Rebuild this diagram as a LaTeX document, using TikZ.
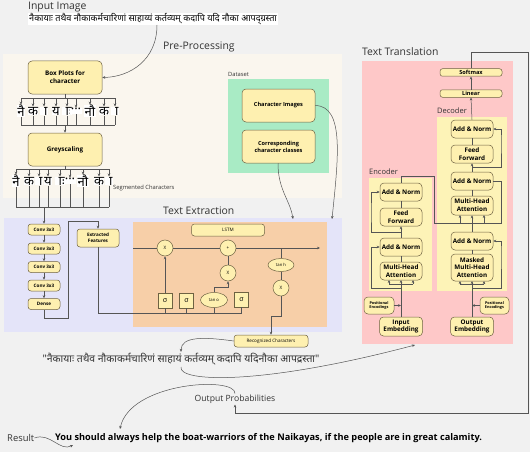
\documentclass[tikz,border=0pt]{standalone}
\usepackage{fontspec}
\setmainfont{Open Sans}
\newfontfamily\deva[Script=Devanagari]{Noto Sans}
\usetikzlibrary{arrows.meta,shapes.geometric}

\definecolor{bgc}{HTML}{F1F1F1}
\definecolor{prec}{HTML}{FAF6EE}
\definecolor{extc}{HTML}{E4E4F9}
\definecolor{lstmc}{HTML}{F7CFA8}
\definecolor{tranc}{HTML}{FEC8C8}
\definecolor{datac}{HTML}{A9EBC5}
\definecolor{codc}{HTML}{FDF3B7}
\definecolor{nodec}{HTML}{FEF0B0}
\definecolor{edgec}{HTML}{6E6242}
\definecolor{linec}{HTML}{555555}
\definecolor{txtc}{HTML}{333333}

\newcommand{\nbs}{\char"00A0}

\tikzset{
  wire/.style={draw=linec, line width=0.5pt},
  arr/.style={wire, -{Stealth[length=3pt,width=2.6pt]}},
  dims/.style 2 args={minimum width=#1pt, minimum height=#2pt},
  blockbox/.style={draw=edgec, fill=nodec, rounded corners=4pt, line width=0.5pt,
    align=center, inner sep=1pt, font=\bfseries\fontsize{6.3}{7.8}\selectfont},
  smallbox/.style={blockbox, rounded corners=3pt, font=\bfseries\fontsize{4.6}{5.8}\selectfont},
  thinbox/.style={blockbox, rounded corners=3pt, font=\fontsize{4.6}{5.8}\selectfont},
  gatecirc/.style={circle, draw=edgec, fill=nodec, line width=0.5pt, inner sep=0pt,
    minimum size=16pt, font=\fontsize{4.6}{5}\selectfont},
  gateoval/.style={ellipse, draw=edgec, fill=nodec, line width=0.5pt, inner sep=0pt,
    font=\fontsize{4.2}{5}\selectfont},
  gatebox/.style={draw=edgec, fill=nodec, line width=0.5pt, inner sep=0pt,
    minimum width=14pt, minimum height=15pt, font=\fontsize{7}{8}\selectfont},
  title/.style={anchor=west, text=txtc, inner sep=0pt, font=\fontsize{10.4}{11}\selectfont},
  label/.style={anchor=west, text=txtc, inner sep=0pt, font=\fontsize{5.8}{6.5}\selectfont},
  glyph/.style={fill=white, inner sep=0.3pt, font=\deva\fontsize{13}{14}\selectfont},
}

\begin{document}
\begin{tikzpicture}[x=1pt,y=-1pt]
\useasboundingbox[fill=bgc] (0,0) rectangle (530,452);

% panels
\fill[prec] (3,54) rectangle (342,198);
\fill[extc] (4,218) rectangle (342,332);
\fill[lstmc] (133,222) rectangle (327,327);
\fill[tranc] (362,61) rectangle (513,344);
\fill[datac] (228,79) rectangle (329,173);
\fill[codc] (437,117) rectangle (507,291);
\fill[codc] (369,178) rectangle (432,291);

\node[title] (tin) at (28,7) {Input Image};
\node[title] (tpre) at (163,47) {Pre-Processing};
\node[title] (text) at (163,211) {Text Extraction};
\node[title] (ttra) at (362,52) {Text Translation};
\node[label] (tdata) at (228,74) {Dataset};
\node[label] (tseg) at (113,188) {Segmented Characters};
\node[label, font=\fontsize{7.5}{8}\selectfont] (tdec) at (437,111) {Decoder};
\node[label, font=\fontsize{7.5}{8}\selectfont] (tenc) at (369,172) {Encoder};

% input line
\node[anchor=west, fill=white, inner sep=1pt, font=\deva\fontsize{9.1}{10}\selectfont] (intext) at (28,19)
  {नैकायाः तथैव नौकाकर्मचारिणां साहाय्यं कर्तव्यम् कदापि यदि नौका आपद्ग्रस्ता};
\coordinate (inpt) at (157,25);

% pre-processing
\node[blockbox, dims={74}{33}] (boxplot) at (65,77.5) {Box Plots for\\character};
\node[blockbox, dims={74}{33}] (grey) at (65,149.5) {Greyscaling};
\draw[arr] (inpt) .. controls (157,60) and (130,77) .. (boxplot.east);

\coordinate (b1) at (65,98);
\coordinate (b2) at (65,125);
\coordinate (b3) at (65,169);
\coordinate (b4) at (44,207);
\foreach \x/\c [count=\i] in {21/नै, 33/क, 44/\nbs ा, 56/य, 67/\nbs ाः, 76/···, 90/नौ, 104/क, 115/\nbs ा}{
  \node[glyph] (ra\i) at (\x,111) {\c};
  \draw[arr] (ra\i |- b1) -- (ra\i.north);
  \draw[wire] (ra\i.south) -- (ra\i |- b2);
}
\foreach \x/\c [count=\i] in {16/नै, 29/क, 39/\nbs ा, 48/य, 60/\nbs ाः, 70/···, 83/नौ, 99/क, 109/\nbs ा}{
  \node[glyph] (rb\i) at (\x,181) {\c};
  \draw[arr] (rb\i |- b3) -- (rb\i.north);
  \draw[wire] (rb\i.south) -- (rb\i |- b4);
}
\draw[wire] (boxplot.south) -- (b1);
\draw[wire] (ra1 |- b1) -- (ra9 |- b1);
\draw[wire] (ra1 |- b2) -- (ra9 |- b2);
\draw[arr] (b2) -- (grey.north);
\draw[wire] (grey.south) -- (b3);
\draw[wire] (rb1 |- b3) -- (rb9 |- b3);
\draw[wire] (rb1 |- b4) -- (rb9 |- b4);

% dataset
\node[blockbox, dims={73}{33}, font=\bfseries\fontsize{5.6}{7}\selectfont] (chimg) at (278.5,105.5) {Character Images};
\node[blockbox, dims={73}{33}, font=\bfseries\fontsize{5.6}{7}\selectfont] (chcls) at (278.5,146.5) {Corresponding\\character classes};
\coordinate (dsa) at (293,219);
\coordinate (dsb) at (332,219);
\draw[arr] (chcls.south -| 278,0) .. controls (278,190) and (290,200) .. (dsa);
\draw[arr] (chimg.east) .. controls (345,106) and (338,160) .. (dsb);

% text extraction
\node[smallbox, dims={32}{11}] (cv1) at (44,229.5) {Conv 3x3};
\node[smallbox, dims={32}{11}] (cv2) at (44,248.5) {Conv 3x3};
\node[smallbox, dims={32}{11}] (cv3) at (44,267) {Conv 3x3};
\node[smallbox, dims={32}{11}] (cv4) at (44,285.5) {Conv 3x3};
\node[smallbox, dims={32}{11}] (dense) at (44,304) {Dense};
\draw[arr] (b4) -- (cv1.north);
\draw[arr] (cv1) -- (cv2);
\draw[arr] (cv2) -- (cv3);
\draw[arr] (cv3) -- (cv4);
\draw[arr] (cv4) -- (dense);
\node[smallbox, dims={42}{18}] (feat) at (98,238) {Extracted\\Features};
\draw[arr] (dense.south) |- (68,318) -- (68,221) -| (feat.north);

% lstm
\node[thinbox, dims={73}{12}] (lstm) at (228,230) {LSTM};
\node[gatecirc] (mx1) at (165,248) {X};
\node[gatecirc] (madd) at (228,248) {+};
\node[gatecirc] (mx2) at (228,273) {X};
\node[gateoval, minimum width=26pt, minimum height=13pt] (tanh) at (281,265) {tan h};
\node[gatecirc] (mx3) at (281,288) {X};
\node[gatebox] (sg1) at (165,300.5) {σ};
\node[gatebox] (sg2) at (186.5,300.5) {σ};
\node[gateoval, minimum width=27pt, minimum height=15pt] (tano) at (214,300) {tan o};
\node[gatebox] (sg3) at (241.5,299.5) {σ};
\coordinate (cl) at (133,248);
\coordinate (cr) at (320,248);
\coordinate (bl) at (98,313);
\draw[wire] (cl) -- (mx1.west);
\draw[wire] (mx1.east) -- (madd.west);
\draw[arr] (madd.east) -- (cr);
\draw[wire] (feat.south) -- (bl) -- (bl -| sg3);
\foreach \g in {sg1, sg2, tano, sg3}
  \draw[wire] (\g.south) -- (\g |- bl);
\draw[arr] (sg1.north) -- (mx1.south);
\draw[arr] (tano.north) |- (228,287) -- (mx2.south);
\draw[wire] (mx2.north) -- (madd.south);
\draw[wire] (tanh |- cr) -- (tanh.north);
\draw[wire] (tanh.south) -- (mx3.north);
\node[thinbox, dims={74}{12}] (recog) at (271,341) {Recognized Characters};
\draw[arr] (mx3.south) -- (281,316) -| (recog.north);

% recognized text
\node[inner sep=1pt, text=txtc, font=\deva\fontsize{10.4}{11}\selectfont] (quote) at (181,359)
  {"नैकायाः तथैव नौकाकर्मचारिणं साहायं कर्तव्यम् कदापि यदिनौका आपद्रस्ता"};
\draw[arr] (recog.west) .. controls (205,337) and (181,336) .. (quote.north);
\coordinate (qb) at (181,367);
\coordinate (tb) at (415,345);
\draw[arr] (qb) .. controls (178,382) and (260,386) .. (tb);

% encoder
\node[blockbox, dims={42}{18}] (ean2) at (401,192) {Add \& Norm};
\node[blockbox, dims={42}{18}] (eff) at (401,217) {Feed\\Forward};
\node[blockbox, dims={42}{18}] (ean1) at (401,247) {Add \& Norm};
\node[blockbox, dims={42}{18}] (emha) at (401,271) {Multi-Head\\Attention};
\node[blockbox, dims={43}{19}] (einp) at (401,326.5) {Input\\Embedding};
\node[blockbox, dims={30}{17}, rounded corners=4pt, font=\bfseries\fontsize{3.8}{4.8}\selectfont] (epos) at (379,305.5) {Positional\\Encodings};
\coordinate (ea) at (401,284);
\coordinate (er) at (371,288);
\draw[wire] (einp.north) -- (ea);
\draw[wire] (389,284) -- (413,284);
\foreach \x in {389,401,413}
  \draw[arr] (\x,284) -- (\x,280);
\draw[arr] (epos.east) -- (epos.east -| einp.north);
\draw[arr] (401,288) -- (er) |- (ean1.west);
\draw[wire] (emha.north) -- (ean1.south);
\draw[arr] (ean1.north) -- (eff.south);
\draw[arr] (401,232) -| (371,213) |- (ean2.west);
\draw[wire] (eff.north) -- (ean2.south);

% decoder
\node[blockbox, dims={62}{7.5}, rounded corners=2.5pt, font=\bfseries\fontsize{5.6}{6}\selectfont] (smax) at (471,72.5) {Softmax};
\node[blockbox, dims={62}{7.5}, rounded corners=2.5pt, font=\bfseries\fontsize{5.6}{6}\selectfont] (lin) at (471,93.5) {Linear};
\node[blockbox, dims={42}{18}] (dan3) at (472,129) {Add \& Norm};
\node[blockbox, dims={42}{18}] (dff) at (472,154) {Feed\\Forward};
\node[blockbox, dims={42}{18}] (dan2) at (472,181) {Add \& Norm};
\node[blockbox, dims={42}{19}] (dmha) at (472,205.5) {Multi-Head\\Attention};
\node[blockbox, dims={42}{18}] (dan1) at (472,241) {Add \& Norm};
\node[blockbox, dims={42}{27}] (dmmha) at (472,267.5) {Masked\\Multi-Head\\Attention};
\node[blockbox, dims={43}{19}] (dout) at (472,326.5) {Output\\Embedding};
\node[blockbox, dims={29}{17}, rounded corners=4pt, font=\bfseries\fontsize{3.8}{4.8}\selectfont] (dpos) at (494.5,305.5) {Positional\\Encodings};
\draw[wire] (dout.north) -- (472,284);
\draw[wire] (460,284) -- (484,284);
\foreach \x in {460,472,484}
  \draw[arr] (\x,284) -- (\x,281);
\draw[arr] (dpos.west) -- (dpos.west -| dout.north);
\draw[arr] (472,288) -| (501,250) |- (dan1.east);
\draw[wire] (dmmha.north) -- (dan1.south);
\draw[arr] (dan1.north) -- (dmha.south);
\draw[wire] (ean2.north) |- (434,176) -- (434,223) -- (501,223) |- (dan2.east);
\foreach \x in {460,484}
  \draw[arr] (\x,223) -- (\x,215);
\draw[wire] (dmha.north) -- (dan2.south);
\draw[arr] (dan2.north) -- (dff.south);
\draw[arr] (472,167) -| (501,140) |- (dan3.east);
\draw[wire] (dff.north) -- (dan3.south);
\draw[arr] (dan3.north) -- (lin.south);
\draw[arr] (lin.north) -- (smax.south);

% output
\node[inner sep=1pt, text=txtc, font=\fontsize{8.6}{9}\selectfont] (outprob) at (235,399) {Output Probabilities};
\coordinate (loopc) at (528,413);
\draw[arr] (smax.north) -- ++(0,-16) -| (loopc) -| (outprob.south);
\node[anchor=west, inner sep=0pt, text=txtc, font=\fontsize{9.4}{10}\selectfont] (result) at (7,438) {Result};
\node[anchor=west, inner sep=0pt, text=black, font=\bfseries\fontsize{9.2}{10}\selectfont] (sentence) at (55,438)
  {You should always help the boat-warriors of the Naikayas, if the people are in great calamity.};
\coordinate (rs) at (73,445);
\coordinate (st) at (120,429);
\draw[arr] (result.east) .. controls (50,432) and (60,452) .. (rs);
\draw[arr] (outprob.north) .. controls (236,376) and (130,382) .. (st);
\end{tikzpicture}
\end{document}
